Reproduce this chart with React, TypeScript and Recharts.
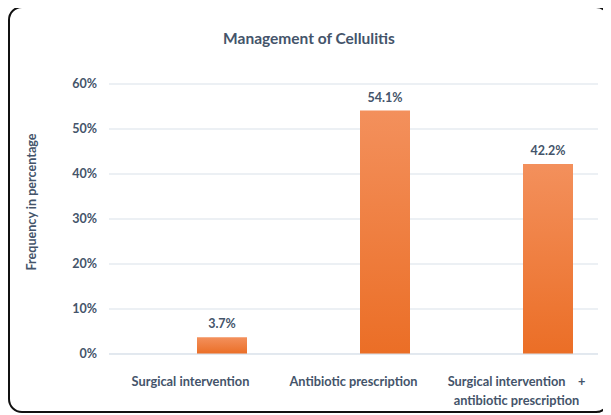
import React from 'react';
import { BarChart, Bar, XAxis, YAxis, CartesianGrid, LabelList } from 'recharts';

const categories = ['Surgical intervention', 'Antibiotic prescription', 'Surgical intervention    +|antibiotic prescription'];
const percentages = [3.7, 54.1, 42.2];
const yTicks = [0, 10, 20, 30, 40, 50, 60];

const TEXT = '#44546A';
const FONT = 'Lato, "Open Sans", sans-serif';

const data = categories.map((name, i) => ({ name, spacer: null, value: percentages[i] }));

const CategoryTick = (props: any) => {
  const { x, y, payload } = props;
  const lines = String(payload.value).split('|');
  return (
    <text x={x} y={y} textAnchor="middle" fill={TEXT} fontSize={12.8} fontWeight={700} fontFamily={FONT}>
      {lines.map((line, i) => (
        <tspan key={i} x={x} dy={i === 0 ? 24 : 19} style={{ whiteSpace: 'pre' }}>{line}</tspan>
      ))}
    </text>
  );
};

export default function App() {
  return (
    <div
      style={{
        width: 598,
        height: 403,
        marginTop: -2,
        border: '2px solid #111',
        borderRadius: 14,
        position: 'relative',
        background: '#fff',
        fontFamily: FONT,
      }}
    >
      <div
        style={{
          position: 'absolute',
          top: 21,
          left: 0,
          width: 598,
          textAlign: 'center',
          color: TEXT,
          fontSize: 15.5,
          fontWeight: 700,
        }}
      >
        Management of Cellulitis
      </div>
      <div
        style={{
          position: 'absolute',
          left: 21,
          top: 194,
          transform: 'translate(-50%, -50%) rotate(-90deg)',
          whiteSpace: 'nowrap',
          color: TEXT,
          fontSize: 12.6,
          fontWeight: 700,
        }}
      >
        Frequency in percentage
      </div>
      <BarChart
        width={598}
        height={403}
        data={data}
        margin={{ top: 76, right: 10, left: 0, bottom: 0 }}
        barSize={50}
        barGap={12}
      >
        <defs>
          <linearGradient id="barFill" x1="0" y1="0" x2="0" y2="1">
            <stop offset="0%" stopColor="#F3905C" />
            <stop offset="100%" stopColor="#EB6E26" />
          </linearGradient>
        </defs>
        <CartesianGrid vertical={false} stroke="#D9E1EA" strokeWidth={1.2} />
        <XAxis
          dataKey="name"
          axisLine={{ stroke: '#D9E1EA' }}
          tickLine={false}
          height={57}
          interval={0}
          tick={<CategoryTick />}
        />
        <YAxis
          domain={[0, 60]}
          ticks={yTicks}
          width={99}
          axisLine={false}
          tickLine={false}
          tickSize={0}
          tickMargin={12}
          tickFormatter={(v: number) => `${v}%`}
          tick={{ fill: TEXT, fontSize: 12.5, fontWeight: 700, fontFamily: FONT }}
        />
        <Bar dataKey="spacer" fill="none" isAnimationActive={false} />
        <Bar dataKey="value" fill="url(#barFill)" isAnimationActive={false}>
          <LabelList
            dataKey="value"
            position="top"
            offset={9}
            formatter={(v: any) => `${v}%`}
            style={{ fill: TEXT, fontSize: 12.5, fontWeight: 700, fontFamily: FONT }}
          />
        </Bar>
      </BarChart>
    </div>
  );
}
